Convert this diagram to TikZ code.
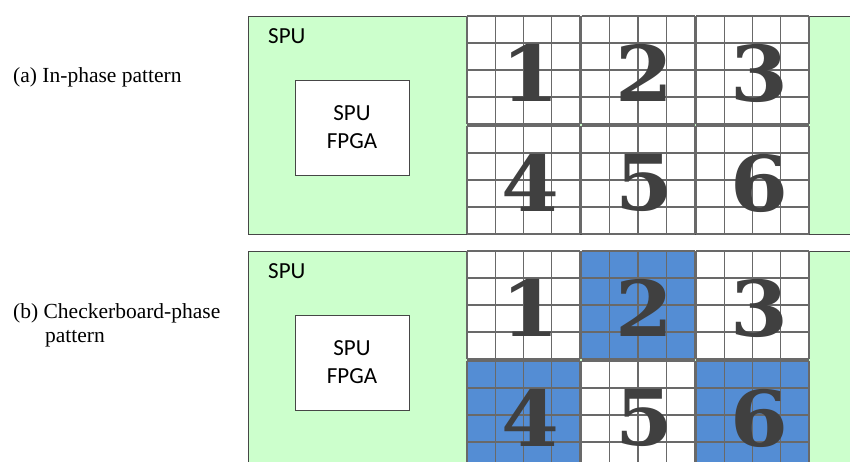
\documentclass[tikz,border=0pt]{standalone}
\usepackage{fontspec}
\setmainfont{Liberation Serif}
\newfontfamily\spufont{Carlito}
\newfontfamily\digitfont[FakeStretch=1.08]{DejaVu Serif}
\definecolor{spugreen}{RGB}{204,255,204}
\definecolor{tileblue}{RGB}{84,141,212}
\definecolor{gridgray}{RGB}{105,105,105}
\definecolor{digitgray}{RGB}{64,64,64}
\definecolor{bordergray}{RGB}{70,70,70}
\tikzset{
  panel/.style={fill=spugreen, draw=bordergray, line width=1pt},
  gridline/.style={draw=gridgray, line width=1.2pt},
  digit/.style={inner sep=0pt, text=digitgray, font=\digitfont\bfseries\fontsize{77}{77}\selectfont},
  spulabel/.style={inner sep=0pt, anchor=base west, font=\spufont\fontsize{23}{28}\selectfont},
  fpgabox/.style={draw=bordergray, fill=white, line width=1pt, minimum width=114pt, minimum height=95pt,
    inner sep=0pt, align=center, font=\spufont\fontsize{23}{28}\selectfont},
  caption/.style={inner sep=0pt, anchor=base west, font=\fontsize{21.5}{25}\selectfont}
}
\newcommand\drawtile[5]{%
  \fill[#3] (#1,#2) rectangle ++(113,108);
  \foreach \i in {0,...,4} \draw[gridline] ({#1+\i*28.25},#2) -- ++(0,108);
  \foreach \j in {0,...,4} \draw[gridline] (#1,{#2+\j*27}) -- ++(113,0);
  \node[digit] (#5) at ({#1+63},{#2+57}) {#4};
}
\begin{document}
\begin{tikzpicture}[x=1pt,y=-1pt]
\useasboundingbox (0,0) rectangle (850,461);
\fill[white] (0,0) rectangle (850,461);
\begin{scope}
\clip (0,0) rectangle (850,461);
% panel (a)
\draw[panel] (248,16) rectangle (870,234);
\node[spulabel] (spua) at (268,43) {SPU};
\node[fpgabox] (fpgaa) at (352,127.5) {SPU\\FPGA};
\drawtile{467}{16}{white}{1}{a1}
\drawtile{581.5}{16}{white}{2}{a2}
\drawtile{696}{16}{white}{3}{a3}
\drawtile{467}{126}{white}{4}{a4}
\drawtile{581.5}{126}{white}{5}{a5}
\drawtile{696}{126}{white}{6}{a6}
% panel (b)
\draw[panel] (248,251) rectangle (870,469);
\node[spulabel] (spub) at (268,278) {SPU};
\node[fpgabox] (fpgab) at (352,362.5) {SPU\\FPGA};
\drawtile{467}{251}{white}{1}{b1}
\drawtile{581.5}{251}{tileblue}{2}{b2}
\drawtile{696}{251}{white}{3}{b3}
\drawtile{467}{361}{tileblue}{4}{b4}
\drawtile{581.5}{361}{white}{5}{b5}
\drawtile{696}{361}{tileblue}{6}{b6}
\end{scope}
% captions
\node[caption] (capa) at (13,82) {(a) In-phase pattern};
\node[caption] (capb) at (13,318) {(b) Checkerboard-phase};
\node[caption] (capb2) at (45,342) {pattern};
\end{tikzpicture}
\end{document}
